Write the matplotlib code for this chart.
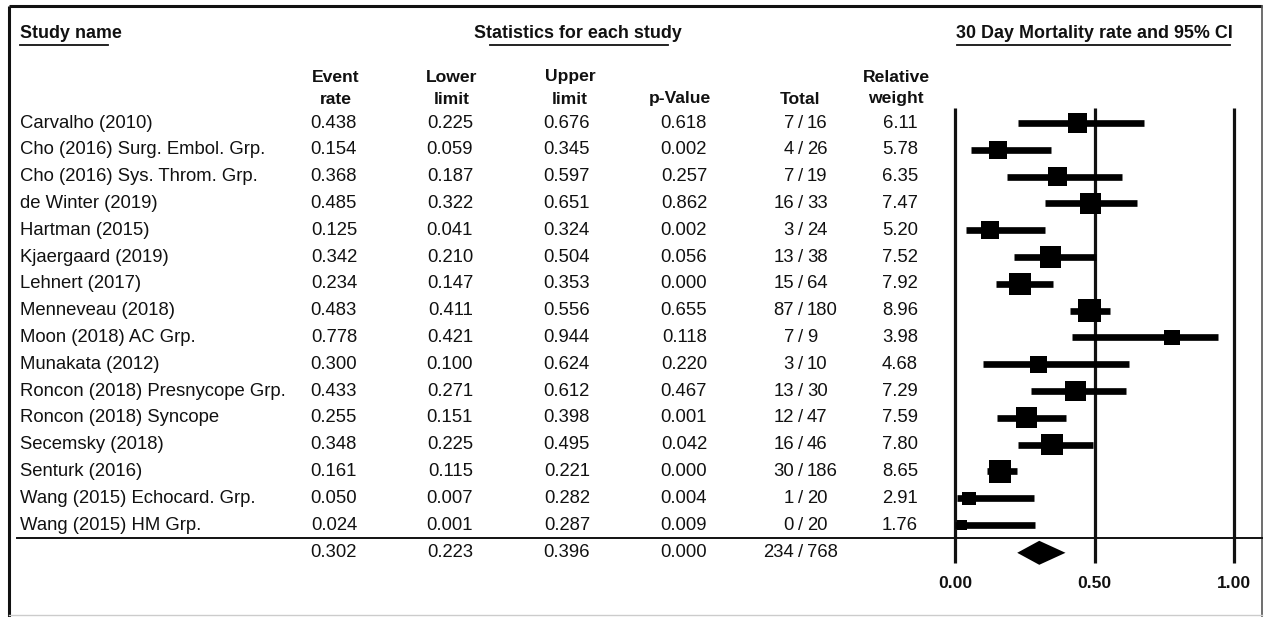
import numpy as np
import matplotlib
matplotlib.use("Agg")
import matplotlib.pyplot as plt
from matplotlib.patches import Rectangle, Polygon

plt.rcParams['font.family'] = ['Liberation Sans', 'DejaVu Sans']

studies = [
    "Carvalho (2010)", "Cho (2016) Surg. Embol. Grp.", "Cho (2016) Sys. Throm. Grp.",
    "de Winter (2019)", "Hartman (2015)", "Kjaergaard (2019)", "Lehnert (2017)",
    "Menneveau (2018)", "Moon (2018) AC Grp.", "Munakata (2012)",
    "Roncon (2018) Presnycope Grp.", "Roncon (2018) Syncope", "Secemsky (2018)",
    "Senturk (2016)", "Wang (2015) Echocard. Grp.", "Wang (2015) HM Grp.",
]
event_rate = [0.438, 0.154, 0.368, 0.485, 0.125, 0.342, 0.234, 0.483,
              0.778, 0.300, 0.433, 0.255, 0.348, 0.161, 0.050, 0.024]
lower_limit = [0.225, 0.059, 0.187, 0.322, 0.041, 0.210, 0.147, 0.411,
               0.421, 0.100, 0.271, 0.151, 0.225, 0.115, 0.007, 0.001]
upper_limit = [0.676, 0.345, 0.597, 0.651, 0.324, 0.504, 0.353, 0.556,
               0.944, 0.624, 0.612, 0.398, 0.495, 0.221, 0.282, 0.287]
p_value = [0.618, 0.002, 0.257, 0.862, 0.002, 0.056, 0.000, 0.655,
           0.118, 0.220, 0.467, 0.001, 0.042, 0.000, 0.004, 0.009]
events = [7, 4, 7, 16, 3, 13, 15, 87, 7, 3, 13, 12, 16, 30, 1, 0]
totals = [16, 26, 19, 33, 24, 38, 64, 180, 9, 10, 30, 47, 46, 186, 20, 20]
rel_weight = [6.11, 5.78, 6.35, 7.47, 5.20, 7.52, 7.92, 8.96,
              3.98, 4.68, 7.29, 7.59, 7.80, 8.65, 2.91, 1.76]

pooled_rate, pooled_lower, pooled_upper, pooled_p = 0.302, 0.223, 0.396, 0.000
pooled_events, pooled_total = 234, 768

axis_ticks = [0.0, 0.5, 1.0]
tick_labels = ["0.00", "0.50", "1.00"]

W, H = 1265, 617
fig = plt.figure(figsize=(W / 100, H / 100), dpi=100)
fig.patch.set_facecolor("white")

# Pixel-space layer for the table text and frame
tab = fig.add_axes([0, 0, 1, 1])
tab.set_xlim(0, W)
tab.set_ylim(H, 0)
tab.axis("off")

# Forest panel: x in rate units, y in pixel rows
x0_px, x1_px = 955, 1234
fp = fig.add_axes([x0_px / W, 0, (x1_px - x0_px) / W, 1])
fp.set_xlim(0, 1)
fp.set_ylim(H, 0)
fp.axis("off")
px_per_unit = (x1_px - x0_px)

ink = "#111111"
fs = 13.3
fs_head = 12.9
fs_col = 12.6
row0, row_step = 123, 26.8
rows = [row0 + i * row_step for i in range(len(studies))]
y_sum = row0 + len(studies) * row_step + 1

# Frame
tab.plot([9, 9], [6, H], color=ink, lw=2.2, solid_capstyle="butt")
tab.plot([9, 1262], [6, 6], color=ink, lw=2.2, solid_capstyle="butt")
tab.plot([1262, 1262], [6, H], color="#555555", lw=1.2)
tab.plot([9, 1262], [615, 615], color="#cccccc", lw=1.0)

# Section headings (bold, underlined)
tab.text(20, 34, "Study name", fontsize=fs_head, fontweight="bold", ha="left", va="center", color=ink)
tab.plot([20, 108], [45, 45], color=ink, lw=1.3)
tab.text(578, 34, "Statistics for each study", fontsize=fs_head, fontweight="bold", ha="center", va="center", color=ink)
tab.plot([490, 668], [45, 45], color=ink, lw=1.3)
tab.text(1094, 34, "30 Day Mortality rate and 95% CI", fontsize=fs_head, fontweight="bold", ha="center", va="center", color=ink)
tab.plot([957, 1230], [45, 45], color=ink, lw=1.3)

# Column headers
col_event, col_lower, col_upper, col_p, col_slash, col_w = 357, 473, 590, 707, 801, 918
hdr_top, hdr_bot = 77, 99
for xc, top, bot in [(336, "Event", "rate"), (452, "Lower", "limit"), (570, "Upper", "limit"),
                     (896, "Relative", "weight")]:
    tab.text(xc, hdr_top, top, fontsize=fs_col, fontweight="bold", ha="center", va="center", color=ink)
    tab.text(xc, hdr_bot, bot, fontsize=fs_col, fontweight="bold", ha="center", va="center", color=ink)
tab.text(680, hdr_bot, "p-Value", fontsize=fs_col, fontweight="bold", ha="center", va="center", color=ink)
tab.text(800, hdr_bot, "Total", fontsize=fs_col, fontweight="bold", ha="center", va="center", color=ink)


def stat_row(y, er, lo, up, p, ev, tot, w=None):
    tab.text(col_event, y, f"{er:.3f}", fontsize=fs, ha="right", va="center", color=ink)
    tab.text(col_lower, y, f"{lo:.3f}", fontsize=fs, ha="right", va="center", color=ink)
    tab.text(col_upper, y, f"{up:.3f}", fontsize=fs, ha="right", va="center", color=ink)
    tab.text(col_p, y, f"{p:.3f}", fontsize=fs, ha="right", va="center", color=ink)
    tab.text(col_slash - 7, y, f"{ev}", fontsize=fs, ha="right", va="center", color=ink)
    tab.text(col_slash, y, "/", fontsize=fs, ha="center", va="center", color=ink)
    tab.text(col_slash + 6, y, f"{tot}", fontsize=fs, ha="left", va="center", color=ink)
    if w is not None:
        tab.text(col_w, y, f"{w:.2f}", fontsize=fs, ha="right", va="center", color=ink)


for i, name in enumerate(studies):
    y = rows[i]
    tab.text(20, y, name, fontsize=fs, ha="left", va="center", color=ink)
    stat_row(y, event_rate[i], lower_limit[i], upper_limit[i], p_value[i],
             events[i], totals[i], rel_weight[i])

stat_row(y_sum, pooled_rate, pooled_lower, pooled_upper, pooled_p, pooled_events, pooled_total)

# Separator above the pooled row
tab.plot([17, 1262], [538, 538], color=ink, lw=1.4)

# Reference lines at 0, 0.5 and 1
for t in axis_ticks:
    fp.plot([t, t], [108, 563], color=ink, lw=2.3, solid_capstyle="butt",
            zorder=2, clip_on=False)

# Study estimates: CI bars and weight-scaled squares
for i in range(len(studies)):
    y = rows[i]
    fp.plot([lower_limit[i], upper_limit[i]], [y, y], color="black", lw=4.8,
            solid_capstyle="butt", zorder=3, clip_on=False)
    side = 7.7 * np.sqrt(rel_weight[i])
    fp.add_patch(Rectangle((event_rate[i] - side / 2 / px_per_unit, y - side / 2),
                           side / px_per_unit, side, facecolor="black",
                           edgecolor="none", zorder=4, clip_on=False))

# Pooled diamond
dh = 12
fp.add_patch(Polygon([(pooled_lower, y_sum), (pooled_rate, y_sum - dh),
                      (pooled_upper, y_sum), (pooled_rate, y_sum + dh)],
                     closed=True, facecolor="black", edgecolor="none", zorder=4))

for t, lab in zip(axis_ticks, tick_labels):
    fp.text(t, 583, lab, fontsize=fs_col, fontweight="bold", ha="center", va="center",
            color=ink, clip_on=False)

fig.savefig("out.png", dpi=100, facecolor="white")
